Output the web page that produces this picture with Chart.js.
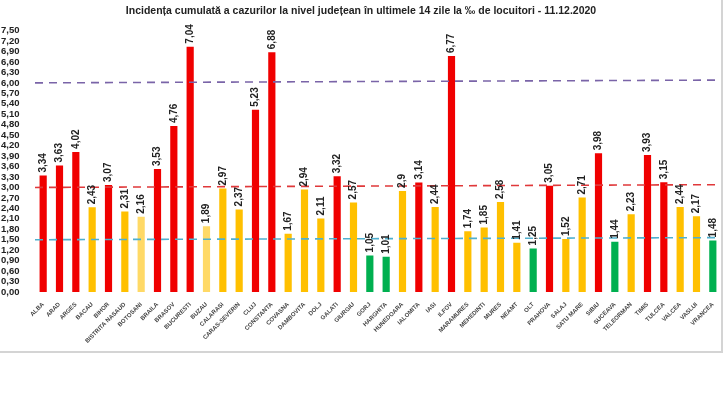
<!DOCTYPE html>
<html>
<head>
<meta charset="utf-8">
<script src="https://cdn.jsdelivr.net/npm/chart.js@4.4.1/dist/chart.umd.min.js"></script>
<style>
  html, body { margin: 0; padding: 0; background: #fff; }
  #wrap { width: 728px; height: 398px; position: relative; }
</style>
</head>
<body>
<div id="wrap"><canvas id="myChart" width="728" height="398"></canvas></div>
<script>
// counties and 14-day incidence per 1000 inhabitants
var counties = ['ALBA','ARAD','ARGES','BACAU','BIHOR','BISTRITA NASAUD','BOTOSANI','BRAILA','BRASOV','BUCURESTI',
  'BUZAU','CALARASI','CARAS-SEVERIN','CLUJ','CONSTANTA','COVASNA','DAMBOVITA','DOLJ','GALATI','GIURGIU',
  'GORJ','HARGHITA','HUNEDOARA','IALOMITA','IASI','ILFOV','MARAMURES','MEHEDINTI','MURES','NEAMT',
  'OLT','PRAHOVA','SALAJ','SATU MARE','SIBIU','SUCEAVA','TELEORMAN','TIMIS','TULCEA','VALCEA','VASLUI','VRANCEA'];
var incidence = [3.34,3.63,4.02,2.43,3.07,2.31,2.16,3.53,4.76,7.04,
  1.89,2.97,2.37,5.23,6.88,1.67,2.94,2.11,3.32,2.57,
  1.05,1.01,2.9,3.14,2.44,6.77,1.74,1.85,2.58,1.41,
  1.25,3.05,1.52,2.71,3.98,1.44,2.23,3.93,3.15,2.44,2.17,1.48];
// r = red, y = yellow, p = pale yellow, g = green
var zones = ['r','r','r','y','r','y','p','r','r','r',
  'p','y','y','r','r','y','y','y','r','y',
  'g','g','y','r','y','r','y','y','y','y',
  'g','r','y','y','r','g','y','r','r','y','y','g'];
var yTicks = [0,0.3,0.6,0.9,1.2,1.5,1.8,2.1,2.4,2.7,3.0,3.3,3.6,3.9,4.2,4.5,4.8,5.1,5.4,5.7,6.0,6.3,6.6,6.9,7.2,7.5];
// threshold lines (value at left edge, value at right edge - the scan is slightly tilted)
var thresholdStart = [6.0, 3.0, 1.5];
var thresholdEnd = [6.08, 3.08, 1.56];

var zoneColor = { r: '#f00000', y: '#ffc000', p: '#ffd966', g: '#00b050' };
var lineColor = ['#7a64a8', '#e0383a', '#4fb0cf'];

var ctx = document.getElementById('myChart').getContext('2d');

var frame = {
  id: 'frame',
  beforeDraw: function(chart){
    var c = chart.ctx;
    c.save();
    c.fillStyle = '#fff';
    c.fillRect(0, 0, chart.width, chart.height);
    c.strokeStyle = '#d4d4d4';
    c.lineWidth = 2;
    c.beginPath();
    c.moveTo(722, 0);
    c.lineTo(722, 352);
    c.lineTo(0, 352);
    c.stroke();
    c.restore();
  }
};

var thresholds = {
  id: 'thresholds',
  afterDatasetsDraw: function(chart){
    var c = chart.ctx, y = chart.scales.y, a = chart.chartArea;
    c.save();
    c.lineWidth = 1.6;
    c.setLineDash([8, 6]);
    for (var i = 0; i < thresholdStart.length; i++) {
      c.strokeStyle = lineColor[i];
      c.beginPath();
      c.moveTo(a.left, y.getPixelForValue(thresholdStart[i]));
      c.lineTo(a.right, y.getPixelForValue(thresholdEnd[i]));
      c.stroke();
    }
    c.restore();
  }
};

var valueLabels = {
  id: 'valueLabels',
  afterDatasetsDraw: function(chart){
    var c = chart.ctx;
    var meta = chart.getDatasetMeta(0);
    c.save();
    c.fillStyle = '#222';
    c.font = 'bold 10px "Liberation Sans", Arial, sans-serif';
    c.textAlign = 'left';
    c.textBaseline = 'middle';
    meta.data.forEach(function(bar, i){
      c.save();
      c.translate(bar.x, bar.y - 3);
      c.rotate(-Math.PI / 2);
      c.fillText(String(incidence[i]).replace('.', ','), 0, 0);
      c.restore();
    });
    c.restore();
  }
};

var chart = new Chart(ctx, {
  type: 'bar',
  data: {
    labels: counties,
    datasets: [{
      data: incidence,
      backgroundColor: zones.map(function(z){ return zoneColor[z]; }),
      barPercentage: 0.44,
      categoryPercentage: 1.0
    }]
  },
  options: {
    responsive: false,
    animation: false,
    layout: { padding: { left: 1, right: 7, top: 0, bottom: 46 } },
    plugins: {
      legend: { display: false },
      tooltip: { enabled: false },
      title: {
        display: true,
        text: 'Incidența cumulată a cazurilor la nivel județean în ultimele 14 zile la ‰ de locuitori - 11.12.2020',
        color: '#222',
        font: { family: '"Liberation Sans", Arial, sans-serif', size: 10.5, weight: 'bold' },
        padding: { top: 5, bottom: 13 }
      }
    },
    scales: {
      x: {
        grid: { display: false },
        border: { display: false },
        ticks: {
          autoSkip: false,
          maxRotation: 45,
          minRotation: 45,
          padding: 1,
          color: '#444',
          font: { family: '"Liberation Sans", Arial, sans-serif', size: 6, weight: 'bold' }
        },
        afterFit: function(scale){ scale.height = 60; }
      },
      y: {
        min: 0,
        max: 7.5,
        grid: { display: false },
        border: { display: false },
        afterBuildTicks: function(scale){
          scale.ticks = yTicks.map(function(v){ return { value: v }; });
        },
        ticks: {
          autoSkip: false,
          crossAlign: 'far',
          padding: 2,
          color: '#222',
          font: { family: '"Liberation Sans", Arial, sans-serif', size: 9.5, weight: 'bold' },
          callback: function(v){ return Number(v).toFixed(2).replace('.', ','); }
        },
        afterFit: function(scale){ scale.width = 34; }
      }
    }
  },
  plugins: [frame, thresholds, valueLabels]
});
</script>
</body>
</html>
